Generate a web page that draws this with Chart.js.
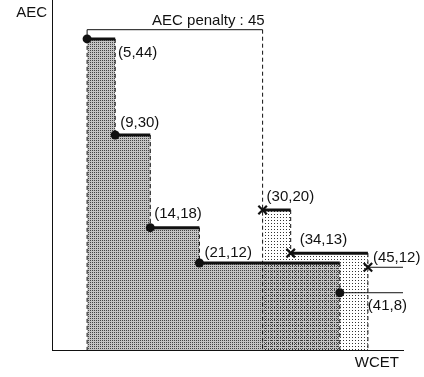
<!DOCTYPE html>
<html>
<head>
<meta charset="utf-8">
<script src="https://cdn.jsdelivr.net/npm/chart.js@4.4.1/dist/chart.umd.min.js"></script>
<style>
  html, body { margin: 0; padding: 0; background: #fff; }
  #wrap { width: 424px; height: 377px; position: relative; }
</style>
</head>
<body>
<div id="wrap"><canvas id="chart"></canvas></div>
<script>
'use strict';

// ===== DATA =====
const dotWcet = [5, 9, 14, 21, 41];
const dotAec = [44, 30.4, 17.3, 12.3, 8.1];
const dotLabels = ['(5,44)', '(9,30)', '(14,18)', '(21,12)', '(41,8)'];

const crossWcet = [30, 34, 45];
const crossAec = [19.8, 13.7, 11.7];
const crossLabels = ['(30,20)', '(34,13)', '(45,12)'];

const penaltyAec = 45.3;
const penaltyText = 'AEC penalty : 45';
const xTitle = 'WCET';
const yTitle = 'AEC';
const wcetMax = 50;
const aecMax = 49.5;

// label offsets in px from the marker (style only)
const dotLabelOffsets = [[31, 14], [5, -12], [4, -14], [5, -10], [28, 13]];
const crossLabelOffsets = [[4, -13], [9, -13], [5, -9]];

const FONT = '15px "Liberation Sans", Arial, sans-serif';
const INK = '#111';

// ===== PATTERNS =====
function makePattern(size, bg, pixels) {
  const c = document.createElement('canvas');
  c.width = size; c.height = size;
  const g = c.getContext('2d');
  if (bg) { g.fillStyle = bg; g.fillRect(0, 0, size, size); }
  pixels.forEach(([x, y, col]) => { g.fillStyle = col; g.fillRect(x, y, 1, 1); });
  return g.createPattern(c, 'repeat');
}
const patternA = makePattern(2, '#c4c4c4', [[0, 0, '#444']]);
const patternB = makePattern(3, null, [[1, 1, '#333']]);

// ===== BUILD GEOMETRY FROM DATA =====
const pts = (xs, ys) => xs.map((x, i) => ({ x, y: ys[i] }));
const GAP = x => ({ x, y: null });

function stepFill(xs, ys) {
  const out = pts(xs.slice(0, -1), ys.slice(0, -1));
  out.push({ x: xs[xs.length - 1], y: ys[ys.length - 2] });
  return out;
}

function thickSegs(xs, ys) {
  const out = [];
  for (let i = 0; i < xs.length - 1; i++) {
    out.push({ x: xs[i], y: ys[i] }, { x: xs[i + 1], y: ys[i] }, GAP(xs[i + 1]));
  }
  return out;
}

function thinTail(xs, ys) {
  const n = xs.length - 1;
  return [{ x: xs[n], y: ys[n] }, { x: wcetMax, y: ys[n] }, GAP(wcetMax)];
}

function dashedEdges(xs, ys, topLeft) {
  const out = [{ x: xs[0], y: topLeft }, { x: xs[0], y: 0 }, GAP(xs[0])];
  for (let i = 1; i < xs.length; i++) {
    const bottom = i === xs.length - 1 ? 0 : ys[i];
    out.push({ x: xs[i], y: ys[i - 1] }, { x: xs[i], y: bottom }, GAP(xs[i]));
  }
  return out;
}

const bracket = [
  { x: dotWcet[0], y: dotAec[0] },
  { x: dotWcet[0], y: penaltyAec },
  { x: crossWcet[0], y: penaltyAec }
];

// ===== TEXT PLUGIN =====
const textPlugin = {
  id: 'texts',
  afterDatasetsDraw(chart) {
    const { ctx, scales: { x, y }, chartArea } = chart;
    ctx.save();
    ctx.font = FONT;
    ctx.fillStyle = INK;
    ctx.textBaseline = 'middle';
    ctx.textAlign = 'left';
    const put = (xs, ys, labels, offs) => labels.forEach((t, i) => {
      ctx.fillText(t, x.getPixelForValue(xs[i]) + offs[i][0], y.getPixelForValue(ys[i]) + offs[i][1]);
    });
    put(dotWcet, dotAec, dotLabels, dotLabelOffsets);
    put(crossWcet, crossAec, crossLabels, crossLabelOffsets);

    ctx.textAlign = 'right';
    ctx.fillText(penaltyText, x.getPixelForValue(crossWcet[0]) + 2, y.getPixelForValue(penaltyAec) - 9);

    ctx.fillText(yTitle, chartArea.left - 5, 13);
    ctx.fillText(xTitle, chartArea.right - 4, chartArea.bottom + 13);
    ctx.restore();
  }
};

// ===== CHART =====
const lineBase = { pointRadius: 0, fill: false, spanGaps: false, borderColor: INK };

new Chart(document.getElementById('chart'), {
  type: 'line',
  data: {
    datasets: [
      { ...lineBase, data: stepFill(dotWcet, dotAec), stepped: true, fill: 'origin',
        backgroundColor: patternA, borderWidth: 0, order: 9 },
      { ...lineBase, data: stepFill(crossWcet, crossAec), stepped: true, fill: 'origin',
        backgroundColor: patternB, borderWidth: 0, order: 8 },
      { ...lineBase, data: [...dashedEdges(dotWcet, dotAec, dotAec[0]), ...dashedEdges(crossWcet, crossAec, penaltyAec)],
        borderWidth: 1, borderDash: [4, 3], order: 7 },
      { ...lineBase, data: [...thinTail(dotWcet, dotAec), ...thinTail(crossWcet, crossAec)],
        borderWidth: 1, order: 6 },
      { ...lineBase, data: bracket, borderWidth: 1, order: 6 },
      { ...lineBase, data: [...thickSegs(dotWcet, dotAec), ...thickSegs(crossWcet, crossAec)],
        borderWidth: 3, borderCapStyle: 'butt', order: 5 },
      { data: pts(dotWcet, dotAec), showLine: false, pointStyle: 'circle', pointRadius: 4.5,
        backgroundColor: INK, borderColor: INK, borderWidth: 0, order: 2 },
      { data: pts(crossWcet, crossAec), showLine: false, pointStyle: 'crossRot', pointRadius: 6,
        borderColor: INK, borderWidth: 2.2, order: 1 }
    ]
  },
  options: {
    responsive: true,
    maintainAspectRatio: false,
    animation: false,
    events: [],
    layout: { autoPadding: false, padding: { left: 52, right: 21, top: 0, bottom: 27 } },
    plugins: { legend: { display: false }, tooltip: { enabled: false } },
    scales: {
      x: {
        type: 'linear', min: 0, max: wcetMax,
        grid: { display: false, drawTicks: false },
        ticks: { display: false },
        border: { display: true, color: INK, width: 1 }
      },
      y: {
        type: 'linear', min: 0, max: aecMax,
        grid: { display: false, drawTicks: false },
        ticks: { display: false },
        border: { display: true, color: INK, width: 1 }
      }
    }
  },
  plugins: [textPlugin]
});
</script>
</body>
</html>
